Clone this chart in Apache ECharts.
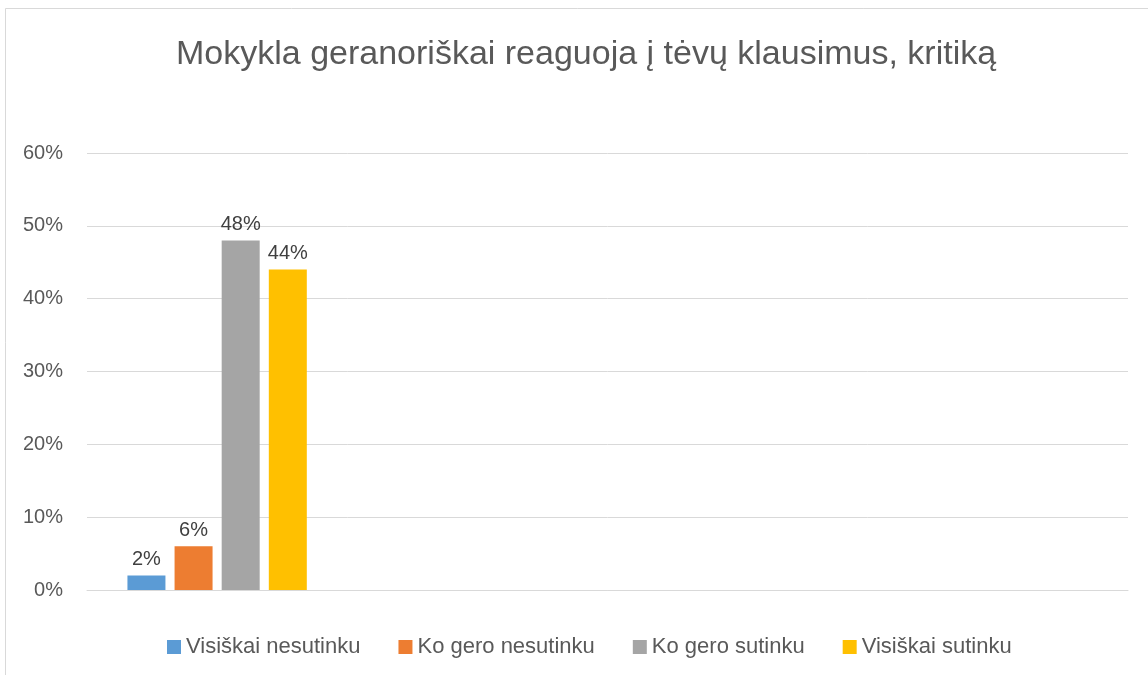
<!DOCTYPE html>
<html>
<head>
<meta charset="utf-8">
<script src="https://cdn.jsdelivr.net/npm/echarts@6/dist/echarts.min.js"></script>
<style>
  html, body { margin: 0; padding: 0; background: #ffffff; }
  #chart { width: 1148px; height: 675px; }
</style>
</head>
<body>
<div id="chart"></div>
<script>
// chart data
var categories = ['1', '2', '3', '4'];
var seriesNames = ['Visiškai nesutinku', 'Ko gero nesutinku', 'Ko gero sutinku', 'Visiškai sutinku'];
var visiskaiNesutinku = [2];
var koGeroNesutinku = [6];
var koGeroSutinku = [48];
var visiskaiSutinku = [44];
var yTicks = [0, 10, 20, 30, 40, 50, 60];

var colors = ['#5B9BD5', '#ED7D31', '#A5A5A5', '#FFC000'];
var values = [visiskaiNesutinku, koGeroNesutinku, koGeroSutinku, visiskaiSutinku];
var fontFam = 'Liberation Sans, Arial, sans-serif';

var series = [];
for (var i = 0; i < seriesNames.length; i++) {
	series.push({
		name : seriesNames[i],
		type : 'bar',
		data : values[i],
		barWidth : 38,
		barGap : '24%',
		itemStyle : { color : colors[i] },
		label : {
			show : true,
			position : 'top',
			distance : 6,
			formatter : '{c}%',
			color : '#404040',
			fontSize : 20,
			fontFamily : fontFam
		}
	});
}

var option = {
	backgroundColor : '#ffffff',
	animation : false,
	title : {
		text : 'Mokykla geranoriškai reaguoja į tėvų klausimus, kritiką',
		left : 171,
		top : 33,
		textStyle : {
			fontSize : 34,
			fontWeight : 'normal',
			color : '#595959',
			fontFamily : fontFam
		}
	},
	legend : {
		data : seriesNames,
		left : 162,
		top : 631,
		itemWidth : 14,
		itemHeight : 14,
		itemGap : 38,
		icon : 'rect',
		textStyle : {
			color : '#595959',
			fontSize : 22,
			fontFamily : fontFam
		}
	},
	grid : {
		left : 87,
		right : 20,
		top : 153,
		bottom : 85
	},
	xAxis : {
		type : 'category',
		data : categories,
		axisLine : { show : true, lineStyle : { color : '#d9d9d9', width : 1 } },
		axisTick : { show : false },
		axisLabel : { show : false },
		splitLine : { show : false }
	},
	yAxis : {
		type : 'value',
		min : yTicks[0],
		max : yTicks[yTicks.length - 1],
		interval : 10,
		axisLine : { show : false },
		axisTick : { show : false },
		axisLabel : {
			formatter : '{value}%',
			color : '#595959',
			fontSize : 20,
			margin : 24,
			fontFamily : fontFam
		},
		splitLine : { lineStyle : { color : '#d9d9d9', width : 1 } }
	},
	graphic : [{
		type : 'rect',
		silent : true,
		shape : { x : 5.5, y : 8.5, width : 1300, height : 800 },
		style : { fill : 'none', stroke : '#d9d9d9', lineWidth : 1 }
	}],
	series : series
};

var myChart = echarts.init(document.getElementById('chart'));
myChart.setOption(option);
</script>
</body>
</html>
